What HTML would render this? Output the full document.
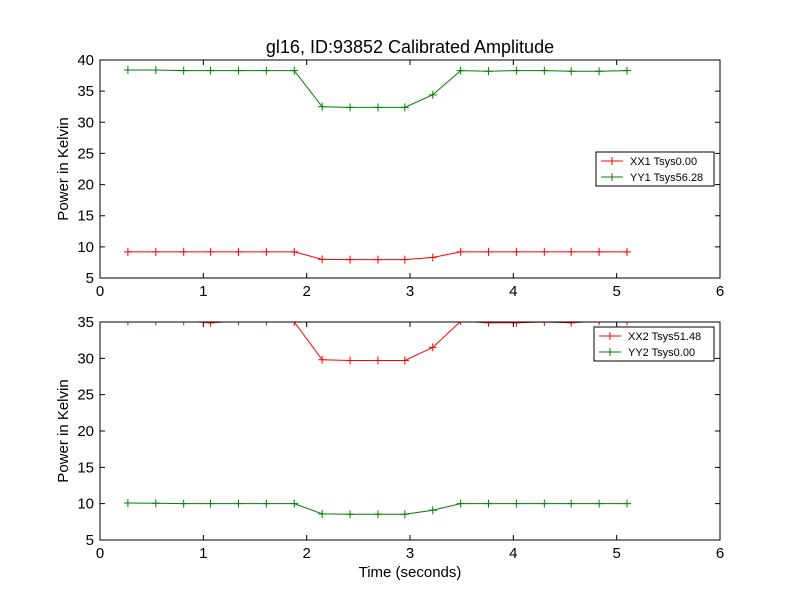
<!DOCTYPE html>
<html><head><meta charset="utf-8"><style>
body{margin:0;background:#fff}
svg{font-family:"Liberation Sans","DejaVu Sans",sans-serif}
</style></head><body>
<svg id="c" width="800" height="600" viewBox="0 0 800 600">
<rect width="800" height="600" fill="#fff"/>
<text x="410" y="53" font-size="18" text-anchor="middle">gl16, ID:93852 Calibrated Amplitude</text>
<defs>
<clipPath id="cp1"><rect x="100" y="60" width="620" height="218"/></clipPath>
<clipPath id="cp2"><rect x="100" y="322" width="620" height="218"/></clipPath>
</defs>
<g id="p1"></g>
<g id="p2"></g>
<text x="410" y="577" font-size="15" text-anchor="middle">Time (seconds)</text>
</svg>
<script>
const times=[0.27,0.54,0.81,1.07,1.34,1.61,1.88,2.15,2.42,2.69,2.95,3.22,3.49,3.76,4.03,4.30,4.56,4.83,5.10];
const xx1=[9.2,9.2,9.2,9.2,9.2,9.2,9.2,8.0,7.95,7.95,7.95,8.3,9.2,9.2,9.2,9.2,9.2,9.2,9.2];
const yy1=[38.4,38.4,38.3,38.3,38.3,38.3,38.3,32.5,32.4,32.4,32.4,34.4,38.3,38.2,38.3,38.3,38.2,38.2,38.3];
const xx2=[35.1,35.1,35.1,34.9,35.1,35.1,35.0,29.8,29.7,29.7,29.7,31.5,35.1,34.9,34.9,35.0,34.9,35.1,35.1];
const yy2=[10.1,10.05,10.0,10.0,10.0,10.0,10.0,8.6,8.55,8.55,8.55,9.1,10.0,10.0,10.0,10.0,10.0,10.0,10.0];
const xTicks=[0,1,2,3,4,5,6];
const yTicks1=[5,10,15,20,25,30,35,40];
const yTicks2=[5,10,15,20,25,30,35];
const legend1=["XX1 Tsys0.00","YY1 Tsys56.28"];
const legend2=["XX2 Tsys51.48","YY2 Tsys0.00"];
const NS="http://www.w3.org/2000/svg";
function mk(p,t,a){const e=document.createElementNS(NS,t);for(const k in a)e.setAttribute(k,a[k]);p.appendChild(e);return e;}
function panel(g,top,ymin,ymax,yt,series,leg,clip,lx,ly){
 const L=100,R=720,B=top+218;
 const xs=v=>L+(v-0)/6*(R-L), ys=v=>B-(v-ymin)/(ymax-ymin)*218;
 const sg=mk(g,'g',{'clip-path':'url(#'+clip+')'});
 
 
 series.forEach((s,si)=>{
  const pts=times.map((t,i)=>xs(t)+','+ys(s.v[i])).join(' ');
  const pl=mk(sg,'polyline',{points:pts,fill:'none',stroke:s.c,'stroke-width':1});
  
  
  times.forEach((t,i)=>{const x=xs(t),y=ys(s.v[i]);
   const m=mk(sg,'path',{d:`M${x-4},${y}H${x+4}M${x},${y-4}V${y+4}`,stroke:s.c,'stroke-width':1});
   
   });
 });
 const fr=mk(g,'rect',{x:L,y:top,width:R-L,height:218,fill:'none',stroke:'#000','stroke-width':1});
 
 
 xTicks.forEach(v=>{const x=xs(v);
  mk(g,'path',{d:`M${x},${B}v-5M${x},${top}v5`,stroke:'#000'});
  const t=mk(g,'text',{x:x,y:B+18,'font-size':15,'text-anchor':'middle'});t.textContent=v;
  
  });
 yt.forEach(v=>{const y=ys(v);
  mk(g,'path',{d:`M${L},${y}h5M${R},${y}h-5`,stroke:'#000'});
  const t=mk(g,'text',{x:L-6,y:y+5,'font-size':15,'text-anchor':'end'});t.textContent=v;
  
  });
 const yl=mk(g,'text',{x:0,y:0,'font-size':15,'text-anchor':'middle',transform:`translate(68,${top+109}) rotate(-90)`});
 yl.textContent='Power in Kelvin';
 
 
 const lg=mk(g,'g',{});
 
 
 mk(lg,'rect',{x:lx,y:ly,width:714-lx,height:34,fill:'#fff',stroke:'#000'});
 leg.forEach((s,i)=>{const y=ly+9+i*16;
  const e=mk(lg,'g',{});
  
  
  mk(e,'path',{d:`M${lx+5},${y}h22M${lx+16-4},${y}h8M${lx+16},${y-4}v8`,stroke:series[i].c});
  const t=mk(e,'text',{x:lx+34,y:y+4,'font-size':11});t.textContent=s;});
}
panel(document.getElementById('p1'),60,5,40,yTicks1,[{v:xx1,c:'#ff0000',n:'xx1'},{v:yy1,c:'#008000',n:'yy1'}],legend1,'cp1',596,152);
panel(document.getElementById('p2'),322,5,35,yTicks2,[{v:xx2,c:'#ff0000',n:'xx2'},{v:yy2,c:'#008000',n:'yy2'}],legend2,'cp2',594,327);
</script>
</body></html>
